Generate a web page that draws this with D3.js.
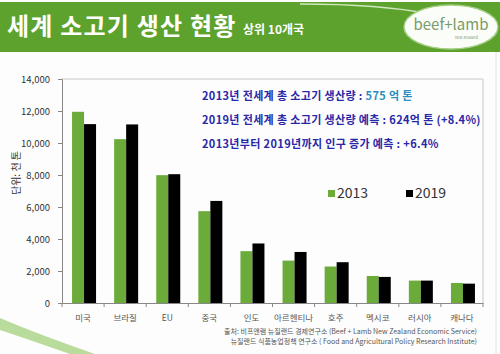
<!DOCTYPE html>
<html>
<head>
<meta charset="utf-8">
<script src="https://cdn.jsdelivr.net/npm/d3@7"></script>
<style>
  body { margin: 0; background: #fff; }
  svg text { font-family: "Noto Sans CJK KR", "Noto Sans", sans-serif; }
</style>
</head>
<body>
<svg id="chart" width="500" height="354"></svg>
<script>
// data
const countries = ["미국", "브라질", "EU", "중국", "인도", "아르헨티나", "호주", "멕시코", "러시아", "캐나다"];
const years = ["2013", "2019"];
const prod2013 = [11950, 10240, 7990, 5740, 3240, 2650, 2280, 1690, 1400, 1250];
const prod2019 = [11180, 11160, 8050, 6380, 3720, 3190, 2550, 1630, 1400, 1210];
const yTicks = [0, 2000, 4000, 6000, 8000, 10000, 12000, 14000];
const notes = [
  ["2013년 전세계 총 소고기 생산량 : ", "575 억 톤"],
  ["2019년 전세계 총 소고기 생산량 예측 : 624억 톤 (+8.4%)", ""],
  ["2013년부터 2019년까지 인구 증가 예측 : +6.4%", ""]
];
const sources = [
  "출처: 비프앤램 뉴질랜드 경제연구소 (Beef + Lamb New Zealand  Economic Service)",
  "뉴질랜드 식품농업정책 연구소 ( Food and Agricultural Policy Research Institute)"
];

const colors = {"2013": "#6aab3a", "2019": "#000000"};
const svg = d3.select("svg#chart");

// background frame + swoosh
svg.append("rect").attr("x", 0).attr("y", 0).attr("width", 500).attr("height", 354).attr("fill", "#fdfdfd");
svg.append("path")
  .attr("d", "M0,318 Q40,335 95,354 L70,354 Q30,340 0,330 Z")
  .attr("fill", "#b9dc9c");
svg.append("line").attr("x1", 496).attr("x2", 496).attr("y1", 52).attr("y2", 354)
  .attr("stroke", "#e2e2e2");

// header
svg.append("rect").attr("x", 0).attr("y", 2).attr("width", 500).attr("height", 50).attr("fill", "#5ea22e");
svg.append("path").attr("d", "M300,4 Q380,4 430,14")
  .attr("fill", "none").attr("stroke", "#cfe8bd").attr("stroke-width", 1.5);
svg.append("text").attr("x", 7).attr("y", 35)
  .attr("fill", "#fff").attr("font-size", 24).attr("font-weight", "bold")
  .attr("letter-spacing", 1.2)
  .text("세계 소고기 생산 현황");
svg.append("text").attr("x", 243).attr("y", 34)
  .attr("fill", "#fff").attr("font-size", 12).attr("font-weight", "bold")
  .text("상위 10개국");

// logo
svg.append("ellipse").attr("cx", 451).attr("cy", 27).attr("rx", 47).attr("ry", 22)
  .attr("fill", "#fbfdf8").attr("stroke", "#a6cf86").attr("stroke-width", 1.5);
svg.append("text").attr("x", 451).attr("y", 30).attr("text-anchor", "middle")
  .attr("fill", "#7a9b69").attr("font-size", 15).attr("font-family", "Liberation Sans, sans-serif")
  .text("beef+lamb");
svg.append("text").attr("x", 478).attr("y", 39).attr("text-anchor", "end")
  .attr("fill", "#8aa07a").attr("font-size", 4).text("new zealand");

// plot area
const margin = {left: 62, top: 79, right: 483, bottom: 303};

const x = d3.scaleBand().domain(countries).range([margin.left, margin.right]);
const x1 = d3.scaleBand().domain(years).range([0, 24]);
const y = d3.scaleLinear().domain([0, 14000]).range([margin.bottom, margin.top]);

svg.append("path")
  .attr("d", "M" + margin.left + "," + margin.top + "H" + margin.right + "V" + margin.bottom)
  .attr("fill", "none").attr("stroke", "#c8c8c8");

// bars
const groups = svg.append("g").attr("class", "bars")
  .selectAll("g").data(countries).enter().append("g")
  .attr("transform", function(d) { return "translate(" + (x(d) + x.bandwidth() / 2 - 11) + ",0)"; });

groups.selectAll("rect")
  .data(function(d, i) { return [{year: "2013", v: prod2013[i]}, {year: "2019", v: prod2019[i]}]; })
  .enter().append("rect")
    .attr("x", function(d) { return x1(d.year); })
    .attr("width", x1.bandwidth())
    .attr("y", function(d) { return y(d.v); })
    .attr("height", function(d) { return y(0) - y(d.v); })
    .attr("fill", function(d) { return colors[d.year]; });

// y axis
const yAxis = svg.append("g").attr("transform", "translate(" + margin.left + ",0)")
  .call(d3.axisLeft(y).tickValues(yTicks).tickFormat(d3.format(",")).tickSize(4).tickPadding(8));
yAxis.select(".domain").attr("stroke", "#888");
yAxis.selectAll(".tick line").attr("stroke", "#888");
yAxis.selectAll("text").attr("font-size", 9.5).attr("fill", "#333")
  .attr("font-family", "Liberation Sans, sans-serif");

// x axis
const xAxis = svg.append("g").attr("transform", "translate(0," + margin.bottom + ")")
  .call(d3.axisBottom(x).tickSize(0).tickPadding(12));
xAxis.select(".domain").attr("stroke", "#888");
xAxis.selectAll("text").attr("font-size", 8.5).attr("fill", "#555");
xAxis.selectAll("line.sep").data(d3.range(countries.length + 1)).enter().append("line")
  .attr("class", "sep")
  .attr("x1", function(i) { return margin.left + i * x.step(); })
  .attr("x2", function(i) { return margin.left + i * x.step(); })
  .attr("y1", 0).attr("y2", 4).attr("stroke", "#888");

// y label
svg.append("text")
  .attr("transform", "translate(20,173) rotate(-90)")
  .attr("text-anchor", "middle").attr("font-size", 10).attr("fill", "#333")
  .text("단위: 천 톤");

// notes
notes.forEach(function(n, i) {
  const t = svg.append("text").attr("x", 202).attr("y", 100 + i * 24)
    .attr("font-size", 11).attr("font-weight", "bold").attr("fill", "#2828a8")
    .attr("letter-spacing", 0.35);
  t.append("tspan").text(n[0]);
  if (n[1]) t.append("tspan").attr("fill", "#2a8fc0").text(n[1]);
});

// legend
const legend = svg.append("g").attr("class", "legend").selectAll("g")
  .data(years).enter().append("g")
  .attr("transform", function(d, i) { return "translate(" + (328 + i * 78) + ",190)"; });
legend.append("rect").attr("width", 7).attr("height", 7)
  .attr("fill", function(d) { return colors[d]; });
legend.append("text").attr("x", 9).attr("y", 8)
  .attr("font-size", 14).attr("fill", "#333")
  .attr("font-family", "Liberation Sans, sans-serif")
  .text(function(d) { return d; });

// source
svg.selectAll("text.src").data(sources).enter().append("text")
  .attr("class", "src")
  .attr("x", 477).attr("y", function(d, i) { return 334 + i * 10; })
  .attr("text-anchor", "end").attr("font-size", 7).attr("fill", "#555")
  .text(function(d) { return d; });
</script>
</body>
</html>
